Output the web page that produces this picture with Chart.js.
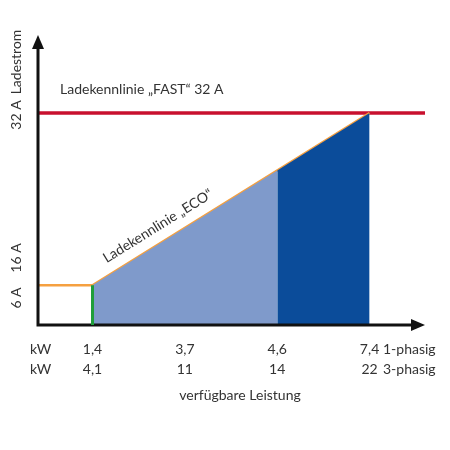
<!DOCTYPE html>
<html>
<head>
<meta charset="utf-8">
<script src="https://cdn.jsdelivr.net/npm/chart.js@4"></script>
<style>
body { margin: 0; background: #fff; }
#wrap { width: 450px; height: 450px; }
</style>
</head>
<body>
<div id="wrap"><canvas id="grafico" width="450" height="450"></canvas></div>
<script>
// x positions are schematic: ticks evenly spaced at 1..4
var xMin = 0.41;
var xMax = 4.6;
var tickPos = [1, 2, 3, 4];
var kw1 = ["1,4", "3,7", "4,6", "7,4"];
var kw3 = ["4,1", "11", "14", "22"];
var ampTicks = [6, 16, 32];
var ampLabels = ["6 A", "16 A", "32 A"];

var ecoX = [xMin, 1, 4];
var ecoY = [6, 6, 32];
var lightX = [1, 3];
var lightY = [6, 23.3];
var darkX = [3, 4];
var darkY = [23.3, 32];
var fast = 32;

function pts(xs, ys) {
    return xs.map(function (x, i) { return { x: x, y: ys[i] }; });
}

var textos = {
    id: "textos",
    afterDraw: function (chart) {
        var c = chart.ctx;
        var xs = chart.scales.x, ys = chart.scales.y;
        var a = chart.chartArea;
        c.save();
        // axes with arrows
        c.strokeStyle = "#111"; c.fillStyle = "#111"; c.lineWidth = 3;
        c.beginPath();
        c.moveTo(a.left, a.top + 8); c.lineTo(a.left, a.bottom); c.lineTo(a.right - 10, a.bottom);
        c.stroke();
        c.beginPath();
        c.moveTo(a.left, a.top); c.lineTo(a.left - 6, a.top + 14); c.lineTo(a.left + 6, a.top + 14); c.closePath(); c.fill();
        c.beginPath();
        c.moveTo(a.right, a.bottom); c.lineTo(a.right - 14, a.bottom - 6); c.lineTo(a.right - 14, a.bottom + 6); c.closePath(); c.fill();
        // green edge
        c.strokeStyle = "#1e9e3a"; c.lineWidth = 3;
        c.beginPath(); c.moveTo(xs.getPixelForValue(1), ys.getPixelForValue(0)); c.lineTo(xs.getPixelForValue(1), ys.getPixelForValue(6)); c.stroke();

        c.fillStyle = "#333";
        c.font = "14px Lato";
        c.textBaseline = "middle";
        c.textAlign = "left";
        c.fillText("Ladekennlinie \u201eFAST\u201c 32 A", 60, 89);
        c.fillText("kW", 30, 349);
        c.fillText("kW", 30, 369);
        c.textAlign = "center";
        for (var i = 0; i < tickPos.length; i++) {
            var px = xs.getPixelForValue(tickPos[i]);
            c.fillText(kw1[i], px, 349);
            c.fillText(kw3[i], px, 369);
        }
        c.textAlign = "left";
        c.fillText("1-phasig", 383, 349);
        c.fillText("3-phasig", 383, 369);
        c.textAlign = "center";
        c.fillText("verfügbare Leistung", 240, 395);
        // rotated y labels
        var yl = [298, 258, 115];
        for (var j = 0; j < ampLabels.length; j++) {
            c.save(); c.translate(16, yl[j]); c.rotate(-Math.PI / 2);
            c.fillText(ampLabels[j], 0, 0); c.restore();
        }
        c.save(); c.translate(16, 62); c.rotate(-Math.PI / 2);
        c.fillText("Ladestrom", 0, 0); c.restore();
        // eco label along slope
        var x1 = xs.getPixelForValue(1), y1 = ys.getPixelForValue(6);
        var x2 = xs.getPixelForValue(4), y2 = ys.getPixelForValue(32);
        c.save(); c.translate(158, 226); c.rotate(Math.atan2(y2 - y1, x2 - x1));
        c.fillText("Ladekennlinie \u201eECO\u201c", 0, 0); c.restore();
        c.restore();
    }
};

new Chart(document.getElementById("grafico").getContext("2d"), {
    type: "line",
    data: {
        datasets: [
            { data: pts(lightX, lightY), fill: "origin", backgroundColor: "#7f9acb", borderWidth: 0, pointRadius: 0, tension: 0 },
            { data: pts(darkX, darkY), fill: "origin", backgroundColor: "#0b4c9a", borderWidth: 0, pointRadius: 0, tension: 0 },
            { data: pts(ecoX, ecoY), borderColor: "#f5a040", borderWidth: 2.5, pointRadius: 0, fill: false, tension: 0 },
            { data: pts([xMin, xMax], [fast, fast]), borderColor: "#c8102e", borderWidth: 3.5, pointRadius: 0, fill: false }
        ]
    },
    options: {
        responsive: false,
        animation: false,
        layout: { padding: { left: 38, right: 25, top: 35, bottom: 125 } },
        plugins: { legend: { display: false }, tooltip: { enabled: false } },
        scales: {
            x: { type: "linear", min: xMin, max: xMax, display: false },
            y: { min: 0, max: 43.77, display: false }
        }
    },
    plugins: [textos]
});
</script>
</body>
</html>
